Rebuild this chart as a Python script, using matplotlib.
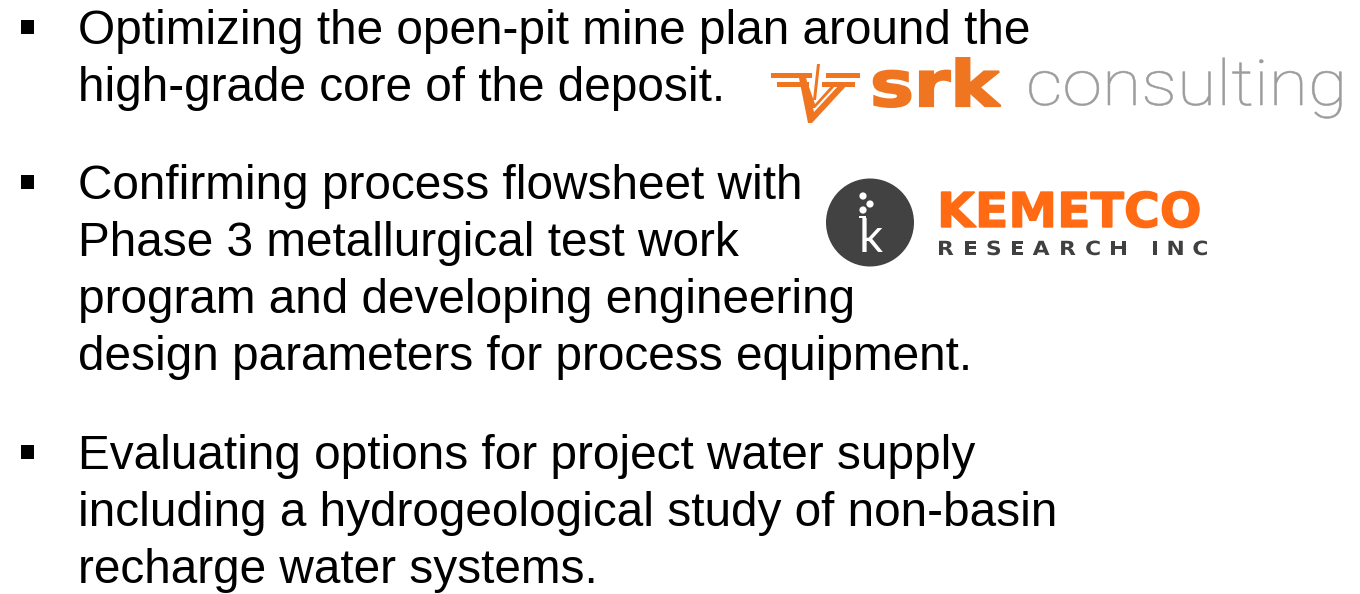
import matplotlib
matplotlib.use("Agg")
import matplotlib.pyplot as plt
from matplotlib.patches import Circle, Polygon, Rectangle, PathPatch
from matplotlib.textpath import TextPath
from matplotlib.font_manager import FontProperties
from matplotlib.transforms import Affine2D

W, H = 1360, 594

bullet_lines = [
    ["Optimizing the open-pit mine plan around the",
     "high-grade core of the deposit."],
    ["Confirming process flowsheet with",
     "Phase 3 metallurgical test work",
     "program and developing engineering",
     "design parameters for process equipment."],
    ["Evaluating options for project water supply",
     "including a hydrogeological study of non-basin",
     "recharge water systems."],
]
block_baselines = [44, 199, 469]
line_step = 57

fig = plt.figure(figsize=(W / 100, H / 100), dpi=100)
ax = fig.add_axes([0, 0, 1, 1])
ax.set_xlim(0, W)
ax.set_ylim(H, 0)
ax.axis("off")


def path_text(x, y, s, size_px, prop, color, sx=1.0, lw=0.0):
    tp = TextPath((0, 0), s, size=size_px, prop=prop)
    tr = Affine2D().scale(sx, -1).translate(x, y) + ax.transData
    ax.add_patch(PathPatch(tp, transform=tr, facecolor=color,
                           edgecolor=color, lw=lw))
    return tp.get_extents().x1 * sx


font = "Liberation Sans"
for lines, y0 in zip(bullet_lines, block_baselines):
    ax.add_patch(Rectangle((21, y0 - 24), 13, 14, color="black", lw=0))
    for i, ln in enumerate(lines):
        ax.text(78, y0 + i * line_step, ln, fontsize=34.4, family=font,
                va="baseline", ha="left", color="black")

# ---------------- SRK logo ----------------
srk_orange = "#F07521"
bars = [
    [(771, 73), (812, 73), (812, 78), (771, 78)],
    [(777, 82), (809, 82), (809, 87), (777, 87)],
    [(826, 73), (860, 73), (860, 78), (826, 78)],
    [(822, 82), (855, 82), (855, 87), (822, 87)],
]
for p in bars:
    ax.add_patch(Polygon(p, closed=True, color=srk_orange, lw=0))
outer_v = [(798, 73), (805, 73), (814, 112), (840, 84), (848, 84), (812, 123), (808, 123)]
ax.add_patch(Polygon(outer_v, closed=True, color=srk_orange, lw=0))
inner_v = [(806, 87), (809, 87), (815, 104), (833, 84), (837, 84), (815, 108), (812, 108)]
ax.add_patch(Polygon(inner_v, closed=True, color=srk_orange, lw=0))
ax.add_patch(Polygon([(817, 64), (820, 64), (816, 100), (813, 100)], closed=True,
                     color=srk_orange, lw=0))

bold = FontProperties(family="DejaVu Sans", weight="bold")
path_text(870, 106, "srk", 63, bold, srk_orange, sx=1.17, lw=1.6)
roboto_light = FontProperties(family="Roboto", weight="light")
path_text(1026, 105, "consulting", 63, roboto_light, "#9C9C9C", sx=1.14, lw=0.4)

# ---------------- KEMETCO logo ----------------
ax.add_patch(Circle((870, 222.5), 44, color="#424242", lw=0))
ax.text(871, 252, "k", fontsize=34, family="Lato", color="white",
        va="baseline", ha="center")
for (cx, cy, r) in [(863, 196, 3.6), (870, 204, 3.6), (863, 210, 3.6)]:
    ax.add_patch(Circle((cx, cy), r, color="white", lw=0))
ax.add_patch(Rectangle((859, 215.5), 7, 2.5, color="white", lw=0))

path_text(937, 227, "KEMETCO", 48, bold, "#FF6A13", sx=1.02, lw=1.0)

sub = "RESEARCH INC"
size_sub = 19.5
sx_sub = 1.12
widths = []
for ch in sub:
    if ch == " ":
        widths.append(size_sub * 0.3)
    else:
        ext = TextPath((0, 0), ch, size=size_sub, prop=bold).get_extents()
        widths.append(ext.x1 * sx_sub)
total_span = 1207 - 937
gap = (total_span - sum(widths)) / (len(sub) - 1)
xc = 937
for ch, w in zip(sub, widths):
    if ch != " ":
        path_text(xc, 255, ch, size_sub, bold, "#404040", sx=sx_sub)
    xc += w + gap

fig.savefig("out.png", dpi=100, facecolor="white")
